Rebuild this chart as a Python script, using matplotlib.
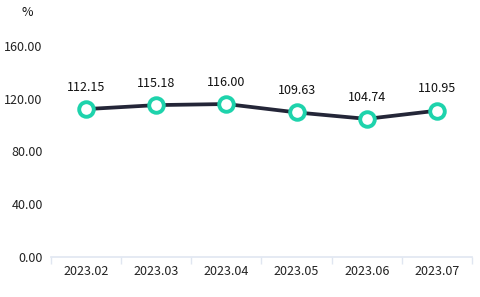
import matplotlib
matplotlib.use('Agg')
import matplotlib.pyplot as plt
import numpy as np

months = ["2023.02", "2023.03", "2023.04", "2023.05", "2023.06", "2023.07"]
values = [112.15, 115.18, 116.00, 109.63, 104.74, 110.95]
yticks = [0, 40, 80, 120, 160]

plt.rcParams['font.family'] = ['Noto Sans CJK SC', 'DejaVu Sans']

fig = plt.figure(figsize=(4.8, 2.97), dpi=100)
ax = fig.add_axes([51 / 480, 1 - 257 / 297, 421 / 480, 211 / 297])

x = np.arange(len(months))
ax.plot(x, values, color='#242638', lw=2.7, zorder=2)
ax.plot(x, values, 'o', ms=10.5, mfc='white', mec='#1ed3ac', mew=2.8, zorder=3)
for xi, v in zip(x, values):
    ax.annotate(f"{v:.2f}", (xi, v), xytext=(0, 11), textcoords='offset points',
                ha='center', va='bottom', fontsize=9, color='#111111')

ax.set_xlim(-0.5, len(months) - 0.5)
ax.set_ylim(0, 160)
ax.set_yticks(yticks)
ax.set_yticklabels([f"{t:.2f}" for t in yticks], fontsize=9, color='#222222')
ax.set_xticks(x)
ax.set_xticklabels(months, fontsize=9, color='#222222')
ax.set_xticks(np.arange(len(months) + 1) - 0.5, minor=True)
ax.tick_params(axis='x', which='major', length=0, pad=6)
ax.tick_params(axis='x', which='minor', length=5, color='#e0e6f1', width=1)
ax.tick_params(axis='y', length=0, pad=6)

for s in ['top', 'right', 'left']:
    ax.spines[s].set_visible(False)
ax.spines['bottom'].set_color('#e0e6f1')
ax.spines['bottom'].set_linewidth(1.2)

fig.text(27 / 480, 1 - 13 / 297, "%", ha='center', va='center', fontsize=9, color='#111111')

fig.savefig('out.png', dpi=100)
